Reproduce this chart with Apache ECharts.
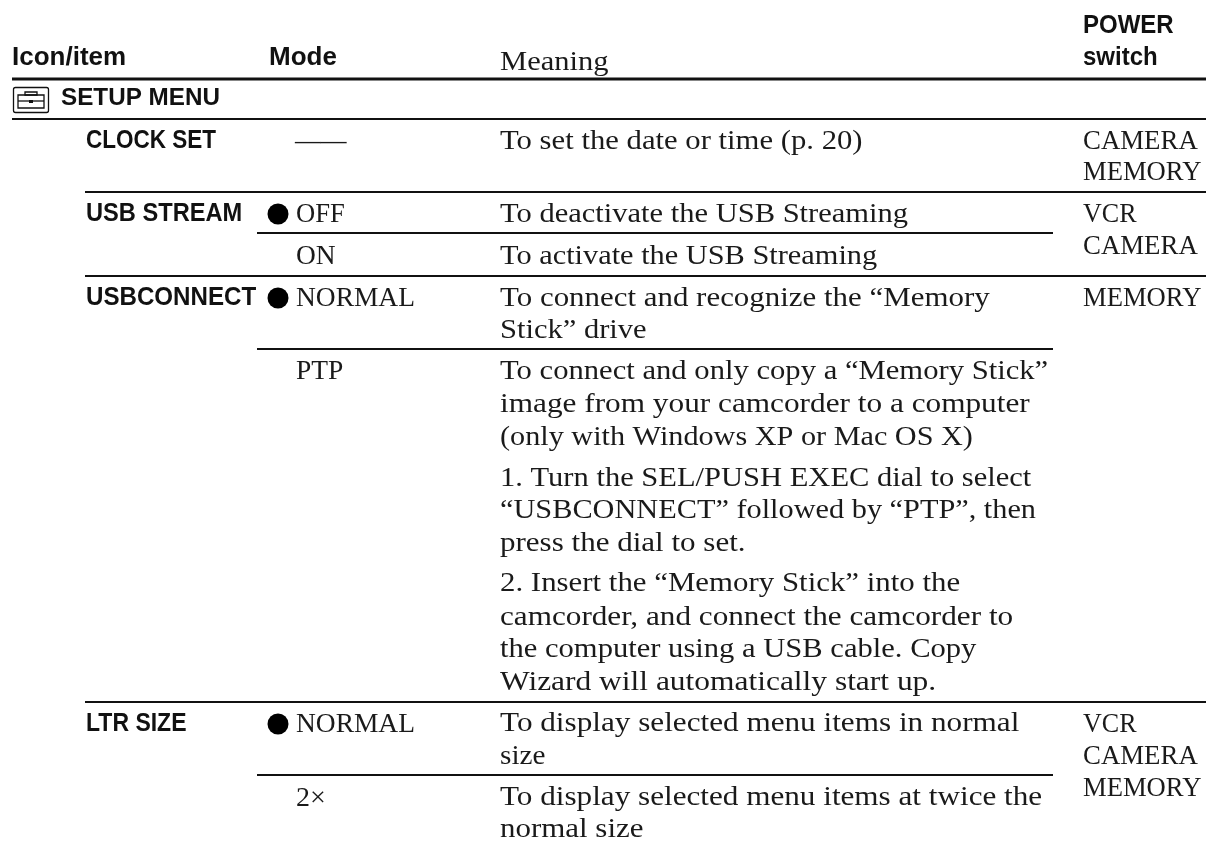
<!DOCTYPE html>
<html><head><meta charset="utf-8"><style>html,body{margin:0;padding:0;background:#fff}#c{width:1206px;height:843px}</style>
<script src="https://cdn.jsdelivr.net/npm/echarts@6/dist/echarts.min.js"></script></head>
<body><div id="c"></div><script>
// content
const headerLabels = ['Icon/item','Mode','Meaning','POWER','switch'];
const sectionLabel = 'SETUP MENU';
const itemLabels = ['CLOCK SET','USB STREAM','USBCONNECT','LTR SIZE'];
const modeLabels = ['——','OFF','ON','NORMAL','PTP','NORMAL','2×'];
const meaningLines = [
 'To set the date or time (p. 20)',
 'To deactivate the USB Streaming',
 'To activate the USB Streaming',
 'To connect and recognize the “Memory','Stick” drive',
 'To connect and only copy a “Memory Stick”','image from your camcorder to a computer','(only with Windows XP or Mac OS X)',
 '1. Turn the SEL/PUSH EXEC dial to select','“USBCONNECT” followed by “PTP”, then','press the dial to set.',
 '2. Insert the “Memory Stick” into the','camcorder, and connect the camcorder to','the computer using a USB cable. Copy','Wizard will automatically start up.',
 'To display selected menu items in normal','size',
 'To display selected menu items at twice the','normal size'];
const switchLabels = ['CAMERA','MEMORY','VCR','CAMERA','MEMORY','VCR','CAMERA','MEMORY'];
// layout (pixel scale of the hidden axes)
const headerPos = [[12,67],[269,67],[500,71],[1083,35],[1083,67]];
const headerStretch = [1.04,1.04,1.09,0.96,0.96];
const itemBase = [150,223,307,733];
const itemStretch = [0.90,0.945,0.965,0.92];
const modeBase = [150,223,265,307,380,733,807];
const modeStretch = [0.92,0.95,0.98,0.98,0.98,0.98,1.0];
const meaningBase = [150,223,265,307,339,380,413,446,487,519,552,592,626,658,691,732,765,806,838];
const meaningStretch = [1.096,1.09,1.084,1.104,1.09,1.094,1.117,1.079,1.09,1.082,1.108,1.102,1.114,1.092,1.123,1.114,1.044,1.113,1.105];
const switchBase = [150,181,223,255,307,733,765,797];
const switchStretch = [0.958,0.951,0.93,0.958,0.951,0.93,0.958,0.951];
const bulletRows = [[278,214],[278,298],[278,724]];
const rules = [[12,1206,79,3],[12,1206,119,2],[85,1206,192,2],[257,1053,233,2],[85,1206,276,2],[257,1053,349,2],[85,1206,702,2],[257,1053,775,2]];

const SANS = 'bold 25px "Liberation Sans",sans-serif';
const SECTION = 'bold 23px "Liberation Sans",sans-serif';
const SERIF = '28px "Liberation Serif",serif';
const textData = [];
const add = (x,b,t,f,s)=>textData.push([x,b,t,f,s]);
headerLabels.forEach((t,i)=>add(headerPos[i][0],headerPos[i][1],t,i===2?SERIF:SANS,headerStretch[i]));
add(61,108,sectionLabel,SECTION,1.054);
itemLabels.forEach((t,i)=>add(86,itemBase[i],t,SANS,itemStretch[i]));
modeLabels.forEach((t,i)=>add(i===0?295:296,modeBase[i],t,SERIF,modeStretch[i]));
meaningLines.forEach((t,i)=>add(500,meaningBase[i],t,SERIF,meaningStretch[i]));
switchLabels.forEach((t,i)=>add(1083,switchBase[i],t,SERIF,switchStretch[i]));

const chart = echarts.init(document.getElementById('c'),null,{renderer:'canvas'});
chart.setOption({
 animation:false,
 grid:{left:0,right:0,top:0,bottom:0},
 xAxis:{type:'value',min:0,max:1206,show:false},
 yAxis:{type:'value',min:0,max:843,inverse:true,show:false},
 series:[
 {type:'custom',silent:true,data:rules,encode:{x:0,y:2},clip:false,
  renderItem:(p,api)=>{
   const a=api.coord([api.value(0),api.value(2)]),b=api.coord([api.value(1),api.value(2)]),h=api.value(3);
   return {type:'rect',shape:{x:a[0],y:a[1]-h/2,width:b[0]-a[0],height:h},style:{fill:'#111'}};
  }},
 {type:'scatter',silent:true,data:bulletRows,symbol:'circle',symbolSize:21,itemStyle:{color:'#000',opacity:1}},
 {type:'custom',silent:true,data:[[13,87]],encode:{x:0,y:1},
  renderItem:(p,api)=>{
   const o=api.coord([api.value(0),api.value(1)]),s={stroke:'#111',fill:null,lineWidth:1.3};
   return {type:'group',x:o[0],y:o[1],children:[
    {type:'rect',shape:{x:0.5,y:0.5,width:35,height:25,r:2},style:s},
    {type:'rect',shape:{x:5,y:8,width:26,height:13},style:s},
    {type:'rect',shape:{x:12,y:5,width:12,height:3},style:s},
    {type:'line',shape:{x1:5,y1:14,x2:31,y2:14},style:s},
    {type:'rect',shape:{x:16,y:13,width:4,height:3},style:{fill:'#111'}}
   ]};
  }},
 {type:'custom',silent:true,data:textData.map((d,i)=>[d[0],d[1],i]),encode:{x:0,y:1},
  renderItem:(p,api)=>{
   const d=textData[p.dataIndex],c=api.coord([d[0],d[1]]);
   return {type:'text',x:c[0],y:c[1],scaleX:d[4],
    style:{text:d[2],x:0,y:d[3]===SERIF?-8.5:-9,textAlign:'left',verticalAlign:'middle',font:d[3],fill:d[3]===SERIF?'#1a1a1a':'#111'}};
  }}
 ]
});
</script></body></html>
